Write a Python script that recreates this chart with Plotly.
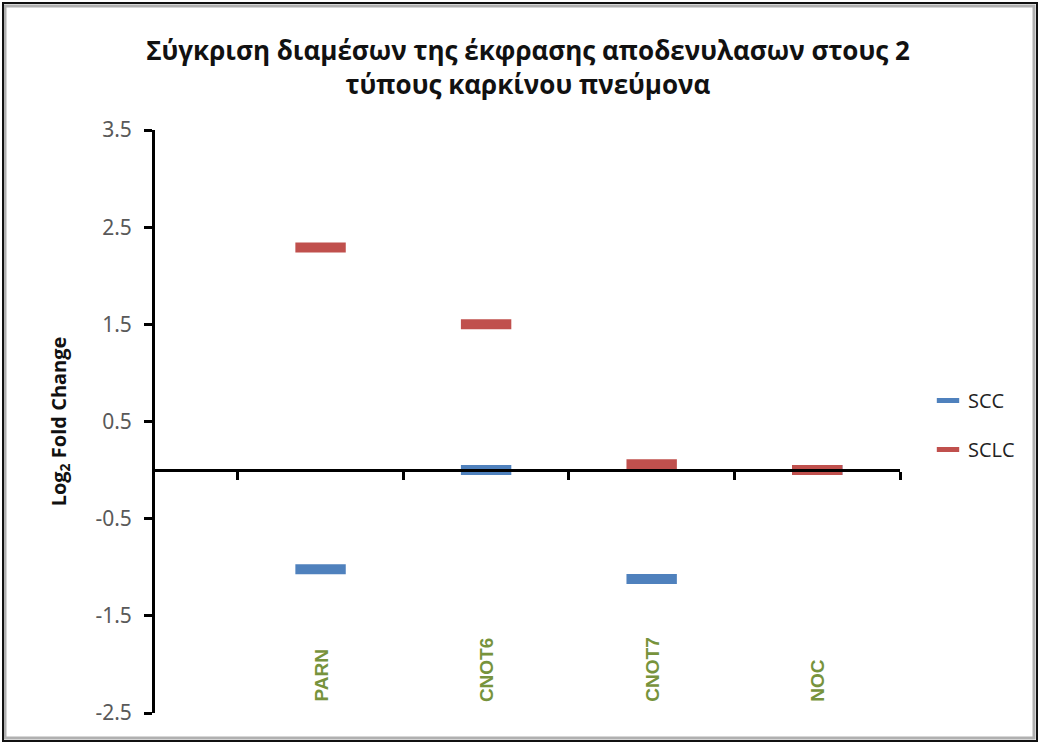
import plotly.graph_objects as go

# Median log2 fold change of deadenylase expression in two lung cancer types
genes = ["PARN", "CNOT6", "CNOT7", "NOC"]
scc = [-1.02, 0.0, -1.12, 0.0]
sclc = [2.29, 1.50, 0.06, 0.0]

y_ticks = [3.5, 2.5, 1.5, 0.5, -0.5, -1.5, -2.5]
boundaries = [0.5, 1.5, 2.5, 3.5, 4.5]
x_pos = [1, 2, 3, 4]

W, H = 1041, 744
ML, MR, MT, MB = 155, 141, 130, 31
PW, PH = W - ML - MR, H - MT - MB


def px_x(p):
    return (p - ML) / PW


def px_y(p):
    return (H - MB - p) / PH


fig = go.Figure()

for name, vals, color in [("SCC", scc, "#4f81bd"), ("SCLC", sclc, "#c0504d")]:
    fig.add_trace(go.Scatter(
        x=x_pos, y=vals, name=name, mode="markers",
        marker=dict(symbol="line-ew", size=36, color=color,
                    line=dict(color=color, width=10)),
        legendgroup=name,
    ))

y_min, y_max = -2.5, 3.5
zero_frac = (0 - y_min) / (y_max - y_min)

# category labels drawn low inside the plot, rotated
annotations = [
    dict(x=xv, y=y_min, xref="x", yref="y", text=g, showarrow=False,
         textangle=-90, xanchor="center", yanchor="bottom", yshift=9,
         font=dict(family="Liberation Sans", size=19, color="#77933c",
                   weight="bold"))
    for xv, g in zip(x_pos, genes)
]

# outer frame of the figure
shapes = [
    dict(type="rect", xref="paper", yref="paper",
         x0=px_x(5), x1=px_x(1034), y0=px_y(738), y1=px_y(6),
         line=dict(color="#b0b0b0", width=3), layer="below"),
    dict(type="rect", xref="paper", yref="paper",
         x0=px_x(3), x1=px_x(1037), y0=px_y(741), y1=px_y(3),
         line=dict(color="#111111", width=2), layer="below"),
]

fig.update_layout(
    width=W, height=H,
    margin=dict(l=ML, r=MR, t=MT, b=MB),
    paper_bgcolor="white", plot_bgcolor="white",
    title=dict(
        text="Σύγκριση διαμέσων της έκφρασης αποδενυλασων στους 2<br>τύπους καρκίνου πνεύμονα",
        x=px_x(528), xref="paper", xanchor="center",
        y=1 - 60 / H, yanchor="middle",
        font=dict(family="Open Sans", size=26, color="#111111", weight="bold"),
    ),
    showlegend=True,
    legend=dict(
        x=px_x(928), y=px_y(381), xanchor="left", yanchor="top",
        font=dict(family="Open Sans", size=20, color="#222222"),
        tracegroupgap=20, bgcolor="rgba(0,0,0,0)",
        itemwidth=30,
    ),
    xaxis=dict(
        range=[0, 4.5], showgrid=False, zeroline=False, showline=False,
        showticklabels=False, ticks="", fixedrange=True,
    ),
    xaxis2=dict(
        range=[0, 4.5], overlaying="x", anchor="free", position=zero_frac,
        side="bottom", showgrid=False, zeroline=False, showline=True,
        linecolor="black", linewidth=3, ticks="outside", ticklen=8,
        tickwidth=3, tickcolor="black", tickvals=boundaries,
        showticklabels=False,
    ),
    yaxis=dict(
        range=[y_min, y_max], tickvals=y_ticks,
        ticktext=[f"{v:.1f}" for v in y_ticks],
        showgrid=False, zeroline=False, showline=True, linecolor="black",
        linewidth=3, ticks="outside", ticklen=8, tickwidth=3,
        tickcolor="black", ticklabelstandoff=8,
        tickfont=dict(family="Noto Sans", size=21, color="#595959"),
        title=dict(text="Log<sub>2</sub> Fold Change", standoff=24,
                   font=dict(family="Open Sans", size=20, color="#111111",
                             weight="bold")),
    ),
    annotations=annotations,
    shapes=shapes,
)

# invisible trace to make the zero-crossing axis render
fig.add_trace(go.Scatter(x=[0, 4.5], y=[0, 0], xaxis="x2", mode="lines",
                         line=dict(width=0), showlegend=False,
                         hoverinfo="skip"))

fig.write_html("out.html")
